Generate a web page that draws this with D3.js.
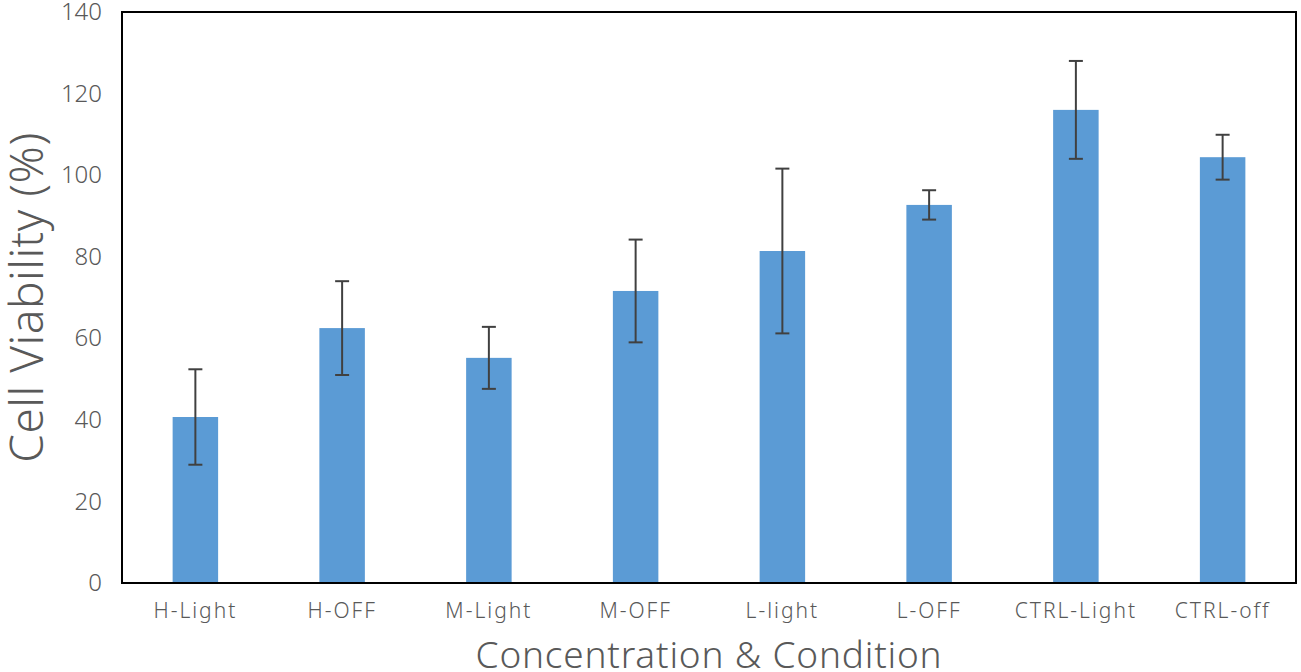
<!DOCTYPE html>
<html>
<head>
<meta charset="utf-8">
<script src="https://cdn.jsdelivr.net/npm/d3@7"></script>
<style>
  body { margin: 0; background: #fff; }
  text { font-family: "Noto Sans", "DejaVu Sans", sans-serif; fill: #595959; }
</style>
</head>
<body>
<div id="chart"></div>
<script>
// Data
const categories = ["H-Light", "H-OFF", "M-Light", "M-OFF", "L-light", "L-OFF", "CTRL-Light", "CTRL-off"];
const viability = [40.7, 62.5, 55.2, 71.6, 81.4, 92.7, 116.0, 104.4];
const errors = [11.7, 11.5, 7.6, 12.6, 20.2, 3.6, 12.0, 5.5];
const yTicks = [0, 20, 40, 60, 80, 100, 120, 140];

const width = 1301;
const height = 672;
const margin = { top: 12, right: 5, bottom: 89, left: 122 };

const svg = d3.select("#chart").append("svg")
    .attr("width", width)
    .attr("height", height);

const x = d3.scaleBand()
    .domain(categories)
    .range([margin.left, width - margin.right])
    .paddingInner(0.69)
    .paddingOuter(0.345);

const y = d3.scaleLinear()
    .domain([0, 140])
    .range([height - margin.bottom, margin.top]);

// Bars
svg.selectAll("rect.bar")
    .data(categories)
    .enter()
    .append("rect")
    .attr("class", "bar")
    .attr("x", d => x(d))
    .attr("width", x.bandwidth())
    .attr("y", (d, i) => y(viability[i]))
    .attr("height", (d, i) => y(0) - y(viability[i]))
    .attr("fill", "#5B9BD5");

// Error bars
const err = svg.selectAll("g.err")
    .data(categories)
    .enter()
    .append("g")
    .attr("class", "err")
    .attr("stroke", "#404040")
    .attr("stroke-width", 2);

const cx = d => x(d) + x.bandwidth() / 2;
err.append("line")
    .attr("x1", cx).attr("x2", cx)
    .attr("y1", (d, i) => y(viability[i] + errors[i]))
    .attr("y2", (d, i) => y(viability[i] - errors[i]));
err.append("line")
    .attr("x1", d => cx(d) - 7).attr("x2", d => cx(d) + 7)
    .attr("y1", (d, i) => y(viability[i] + errors[i]))
    .attr("y2", (d, i) => y(viability[i] + errors[i]));
err.append("line")
    .attr("x1", d => cx(d) - 7).attr("x2", d => cx(d) + 7)
    .attr("y1", (d, i) => y(viability[i] - errors[i]))
    .attr("y2", (d, i) => y(viability[i] - errors[i]));

// Frame
svg.append("rect")
    .attr("x", margin.left)
    .attr("y", margin.top)
    .attr("width", width - margin.right - margin.left)
    .attr("height", height - margin.bottom - margin.top)
    .attr("fill", "none")
    .attr("stroke", "#000")
    .attr("stroke-width", 2);

// Y axis
const yAxis = svg.append("g")
    .attr("transform", `translate(${margin.left},0)`)
    .call(d3.axisLeft(y).tickValues(yTicks).tickSize(0).tickPadding(20));
yAxis.select(".domain").remove();
yAxis.selectAll("text")
    .style("font-size", "24px")
    .style("font-weight", 300)
    .attr("fill", "#595959");

// X axis
const xAxis = svg.append("g")
    .attr("transform", `translate(0,${height - margin.bottom})`)
    .call(d3.axisBottom(x).tickSize(0).tickPadding(20));
xAxis.select(".domain").remove();
xAxis.selectAll("text")
    .style("font-size", "21px")
    .style("font-weight", 300)
    .style("letter-spacing", "2px")
    .attr("fill", "#595959");

// Axis titles
svg.append("text")
    .attr("transform", `translate(43,${(margin.top + height - margin.bottom) / 2}) rotate(-90)`)
    .attr("text-anchor", "middle")
    .style("font-size", "46px")
    .style("font-weight", 300)
    .style("letter-spacing", "0.5px")
    .text("Cell Viability (%)");

svg.append("text")
    .attr("x", (margin.left + width - margin.right) / 2)
    .attr("y", 668)
    .attr("text-anchor", "middle")
    .style("font-size", "37px")
    .style("font-weight", 300)
    .style("letter-spacing", "0.8px")
    .text("Concentration & Condition");
</script>
</body>
</html>
